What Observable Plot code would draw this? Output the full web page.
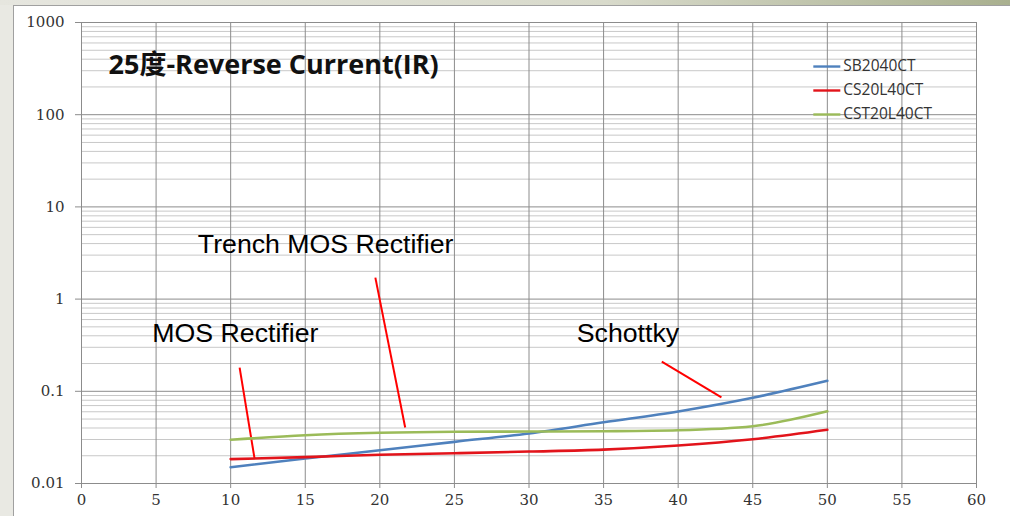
<!DOCTYPE html>
<html>
<head>
<meta charset="utf-8">
<script src="https://cdn.jsdelivr.net/npm/d3@7"></script>
<script src="https://cdn.jsdelivr.net/npm/@observablehq/plot@0.6"></script>
<style>
  html, body { margin: 0; padding: 0; }
  body { width: 1010px; height: 516px; overflow: hidden; position: relative; background: #e9e9e3; }
  #band { position: absolute; left: 0; top: 0; width: 1010px; height: 5px; background: linear-gradient(to right, #e6e6df 0%, #d8dacb 60%, #a9b08f 100%); }
  #panel { position: absolute; left: 13px; top: 5px; width: 1010px; height: 520px; background: #fff; border-left: 1px solid #a0a0a0; border-top: 1px solid #a0a0a0; }
  #chart { position: absolute; left: 0; top: 0; }
  #chart g[aria-label="x-axis tick label"],
  #chart g[aria-label="y-axis tick label"] { font-family: "DejaVu Serif", serif; font-size: 15px; }
</style>
</head>
<body>
<div id="band"></div>
<div id="panel"></div>
<div id="chart"></div>
<script>
// ---- data ----
const voltages = [10, 15, 20, 25, 30, 35, 40, 45, 50];
const sb2040ct = [0.0150, 0.0187, 0.0229, 0.0283, 0.0349, 0.0461, 0.0605, 0.0851, 0.130];
const cs20l40ct = [0.0184, 0.0193, 0.0205, 0.0213, 0.0222, 0.0233, 0.0258, 0.0302, 0.0382];
const cst20l40ct = [0.0298, 0.0334, 0.0355, 0.0364, 0.0366, 0.0369, 0.0378, 0.0418, 0.0606];
const seriesNames = ["SB2040CT", "CS20L40CT", "CST20L40CT"];
const seriesColors = ["#4f81bd", "#e2141b", "#9bbb59"];
const xTicks = [0, 5, 10, 15, 20, 25, 30, 35, 40, 45, 50, 55, 60];
const yTicks = [0.01, 0.1, 1, 10, 100, 1000];
const yTickLabels = ["0.01", "0.1", "1", "10", "100", "1000"];
const titleText = "25度-Reverse Current(IR)";
const noteLabels = ["Trench MOS Rectifier", "MOS Rectifier", "Schottky"];
// annotation anchors (data coordinates: voltage, current)
const noteTextX = [7.8, 4.75, 33.2];
const noteTextY = [3.2, 0.341, 0.341];
const notePointerFrom = [[19.7, 1.71], [10.6, 0.181], [38.9, 0.21]];
const notePointerTo = [[21.7, 0.0405], [11.6, 0.0187], [42.9, 0.0857]];

// ---- build tables ----
const allSeries = [sb2040ct, cs20l40ct, cst20l40ct];
const rows = [];
allSeries.forEach((vals, si) => vals.forEach((v, i) => rows.push({series: seriesNames[si], x: voltages[i], y: v})));
const minorY = [];
yTicks.slice(0, -1).forEach(d => { for (let k = 2; k <= 9; k++) minorY.push(d * k); });
const notes = noteLabels.map((t, i) => ({t, x: noteTextX[i], y: noteTextY[i]}));
const pointers = notePointerFrom.map((f, i) => ({x1: f[0], y1: f[1], x2: notePointerTo[i][0], y2: notePointerTo[i][1]}));
// legend placed in the upper right of the frame (data coordinates)
const legendY = [333, 183, 100.5];
const legend = seriesNames.map((s, i) => ({s, y: legendY[i], c: seriesColors[i]}));

const chart = Plot.plot({
  width: 1010,
  height: 516,
  marginLeft: 81,
  marginRight: 34,
  marginTop: 22,
  marginBottom: 33,
  style: {background: "transparent", overflow: "visible"},
  x: {domain: [0, 60], label: null},
  y: {type: "log", domain: [0.01, 1000], label: null},
  color: {domain: seriesNames, range: seriesColors},
  marks: [
    Plot.ruleY(minorY, {stroke: "#c8c8c8", strokeWidth: 1}),
    Plot.ruleY(yTicks, {stroke: "#8c8c8c", strokeWidth: 1}),
    Plot.ruleX(xTicks, {stroke: "#8c8c8c", strokeWidth: 1}),
    Plot.axisY({ticks: yTicks, tickFormat: d => yTickLabels[yTicks.indexOf(d)], tickSize: 6, tickPadding: 11, stroke: "#8c8c8c", fill: "#333"}),
    Plot.axisX({ticks: xTicks, tickFormat: d => String(d), tickSize: 5, tickPadding: 6, stroke: "#8c8c8c", fill: "#333"}),
    Plot.text([titleText], {x: 1.81, y: 278, text: d => d, textAnchor: "start", lineAnchor: "bottom", fontSize: 27, fontWeight: "bold", fontFamily: "'Open Sans', 'Noto Sans CJK SC', sans-serif", fill: "#111"}),
    Plot.text(notes, {x: "x", y: "y", text: "t", textAnchor: "start", lineAnchor: "bottom", fontSize: 26.7, fontFamily: "'Liberation Sans', Arial, sans-serif", fill: "#000"}),
    Plot.link(pointers, {x1: "x1", y1: "y1", x2: "x2", y2: "y2", stroke: "#ff0000", strokeWidth: 2}),
    Plot.line(rows, {x: "x", y: "y", stroke: "series", strokeWidth: 2.6, curve: "monotone-x"}),
    Plot.link(legend, {x1: 49.06, x2: 50.87, y1: "y", y2: "y", stroke: "c", strokeWidth: 2.4}),
    Plot.text(legend, {x: 51.07, y: "y", text: "s", textAnchor: "start", fontSize: 15.5, fontFamily: "'Open Sans', sans-serif", fill: "#333"})
  ]
});
document.getElementById("chart").appendChild(chart);
</script>
</body>
</html>
